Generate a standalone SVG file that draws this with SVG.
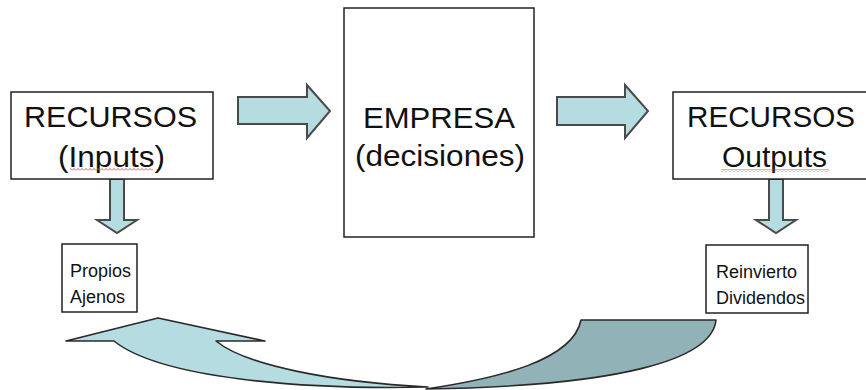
<svg xmlns="http://www.w3.org/2000/svg" width="866" height="390" viewBox="0 0 866 390">
<style>
.box{fill:#fff;stroke:#222;stroke-width:1.5}
.big{font-family:"Liberation Sans",Arial,sans-serif;font-size:29px;fill:#111}
.small{font-family:"Liberation Sans",Arial,sans-serif;font-size:18px;fill:#111}
.arr{fill:#b5dde1;stroke:#4a4a4a;stroke-width:2;stroke-linejoin:miter}
.curveL{fill:#b5dde1;stroke:#2a2a2a;stroke-width:1.6;stroke-linejoin:round}
.curveR{fill:#91b2b6;stroke:#2a2a2a;stroke-width:1.6;stroke-linejoin:round}
</style>
<defs>
<pattern id="wavy" width="4" height="3" patternUnits="userSpaceOnUse">
<path d="M0,2.5 L2,0.5 L4,2.5" fill="none" stroke="#d04848" stroke-width="0.9"/>
</pattern>
</defs>
<rect width="866" height="390" fill="#fff"/>
<g id="connectors">
<path class="arr" d="M238,97 L307,97 L307,85 L330,111 L307,138 L307,124 L238,124 Z"/>
<path class="arr" d="M557,97 L625,97 L625,85 L648,111 L625,138 L625,125 L557,125 Z"/>
<path class="arr" d="M110,179 L124,179 L124,220 L137,220 L117,233 L97,220 L110,220 Z"/>
<path class="arr" d="M769,179 L783,179 L783,220 L796,220 L776,233 L756,220 L769,220 Z"/>
<g id="curved-arrow">
<path class="curveR" d="M581,320 L716,320 C712,360 620,386 426,389 C500,378 573,360 581,320 Z"/>
<path class="curveL" d="M66,341 L158,318 L265,341 L216,341 C245,365 330,382 428,387 C300,390 160,378 114,341 Z"/>
</g>
</g>
<g id="node-recursos-inputs">
<rect class="box" x="11" y="92" width="202" height="87"/>
<text class="big" x="24" y="127" textLength="173" lengthAdjust="spacingAndGlyphs">RECURSOS</text>
<text class="big" x="58" y="167" textLength="107" lengthAdjust="spacingAndGlyphs">(Inputs)</text>
<rect x="70" y="168" width="83" height="3" fill="url(#wavy)"/>
</g>
<g id="node-empresa">
<rect class="box" x="344" y="8" width="190" height="229"/>
<text class="big" x="363" y="128" textLength="152" lengthAdjust="spacingAndGlyphs">EMPRESA</text>
<text class="big" x="355" y="166" textLength="170" lengthAdjust="spacingAndGlyphs">(decisiones)</text>
</g>
<g id="node-recursos-outputs">
<rect class="box" x="673" y="92" width="200" height="87"/>
<text class="big" x="687" y="127" textLength="168" lengthAdjust="spacingAndGlyphs">RECURSOS</text>
<text class="big" x="722" y="167" textLength="105" lengthAdjust="spacingAndGlyphs">Outputs</text>
<rect x="721" y="169" width="108" height="3" fill="url(#wavy)"/>
</g>
<g id="node-propios">
<rect class="box" x="62" y="244" width="75" height="68"/>
<text class="small" x="70" y="277">Propios</text>
<text class="small" x="70" y="303">Ajenos</text>
</g>
<g id="node-reinvierto">
<rect class="box" x="706" y="245" width="102" height="68"/>
<text class="small" x="716" y="278">Reinvierto</text>
<text class="small" x="716" y="304">Dividendos</text>
</g>
</svg>
